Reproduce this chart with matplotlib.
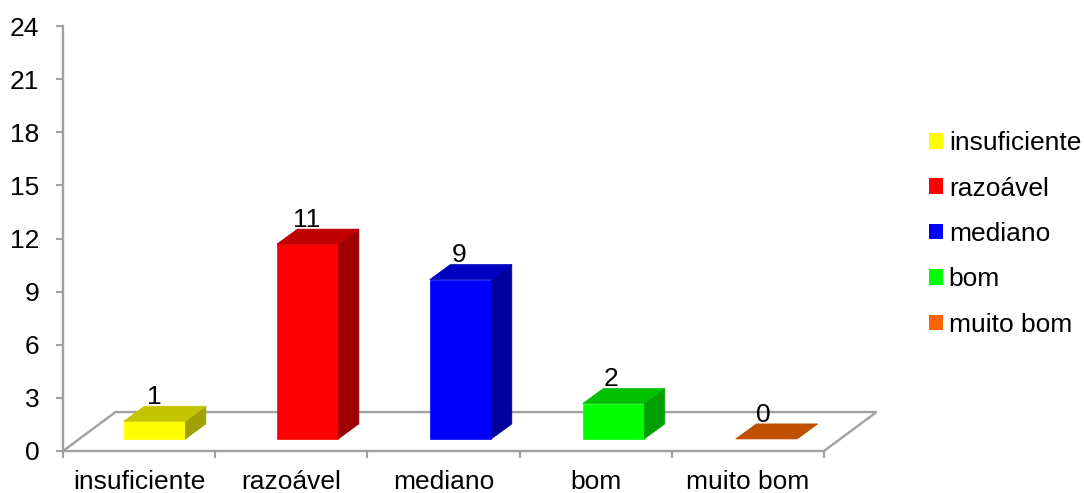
import matplotlib
matplotlib.use("Agg")
import matplotlib.pyplot as plt
from matplotlib.patches import Polygon, Patch
from matplotlib.lines import Line2D

plt.rcParams['font.family'] = ['Liberation Sans', 'DejaVu Sans']

categories = ["insuficiente", "razoável", "mediano", "bom", "muito bom"]
values = [1, 11, 9, 2, 0]
y_ticks = [0, 3, 6, 9, 12, 15, 18, 21, 24]

front_colors = ["#FFFF00", "#FF0000", "#0000FF", "#00FF00", "#FF6600"]
top_colors = ["#C4C400", "#C00000", "#0000C0", "#00C000", "#C05000"]
side_colors = ["#A0A000", "#A00000", "#00009C", "#00A000", "#A04000"]

GRAY = "#A0A0A0"
INK = "#000000"
FS = 19

# Oblique projection, in data units
FLOOR_DX, FLOOR_DY = 0.345, 2.2
BAR_DX, BAR_DY = 0.135, 0.85
BAR_LEFT, BAR_WIDTH, BAR_BASE = 0.40, 0.404, 0.68
BAR_PITCH = 1.005
LABEL_X = 0.60

W, H = 1084, 493
fig = plt.figure(figsize=(W / 100, H / 100), dpi=100)
ax = fig.add_axes([63 / W, 1 - 451 / H, (824 - 63) / W, (451 - 26) / H])
ax.set_xlim(0, 5)
ax.set_ylim(0, 24)
ax.patch.set_alpha(0)

for s in ("top", "right"):
    ax.spines[s].set_visible(False)
for s in ("left", "bottom"):
    ax.spines[s].set_color(GRAY)
    ax.spines[s].set_linewidth(1.7)

ax.set_yticks(y_ticks)
ax.set_xticks(range(6))
ax.set_xticklabels([])
ax.set_xticks([i + 0.5 for i in range(5)], minor=True)
ax.set_xticklabels(categories, minor=True, fontsize=FS, color=INK)
ax.tick_params(axis="y", length=5, width=1.5, color=GRAY, pad=12, labelsize=FS, labelcolor=INK)
ax.tick_params(axis="x", which="major", length=5, width=1.5, color=GRAY)
ax.tick_params(axis="x", which="minor", length=0, pad=14)

# Perspective floor: left diagonal, back edge, right diagonal
ax.add_line(Line2D([0, FLOOR_DX, 5 + FLOOR_DX, 5], [0, FLOOR_DY, FLOOR_DY, 0],
                   color=GRAY, lw=1.7, clip_on=False, zorder=1,
                   solid_joinstyle="miter"))

for i, (v, fc, tc, sc) in enumerate(zip(values, front_colors, top_colors, side_colors)):
    x0 = i * BAR_PITCH + BAR_LEFT
    x1 = x0 + BAR_WIDTH
    y0, y1 = BAR_BASE, BAR_BASE + v
    if v > 0:
        ax.add_patch(Polygon([(x0, y0), (x1, y0), (x1, y1), (x0, y1)],
                             fc=fc, ec=fc, lw=0.5, zorder=3))
        ax.add_patch(Polygon([(x1, y0), (x1 + BAR_DX, y0 + BAR_DY),
                              (x1 + BAR_DX, y1 + BAR_DY), (x1, y1)],
                             fc=sc, ec=sc, lw=0.5, zorder=3))
    ax.add_patch(Polygon([(x0, y1), (x1, y1), (x1 + BAR_DX, y1 + BAR_DY),
                          (x0 + BAR_DX, y1 + BAR_DY)],
                         fc=tc, ec=tc, lw=0.5, zorder=3))
    ax.text(i + LABEL_X, y1 + BAR_DY + 0.12, str(v), ha="center", va="baseline",
            fontsize=FS, color=INK, zorder=4)

handles = [Patch(fc=c, ec="none") for c in front_colors]
fig.legend(handles, categories, loc="center left",
           bbox_to_anchor=(929 / W, 1 - 234 / H), frameon=False, fontsize=FS,
           handlelength=0.53, handleheight=0.53, handletextpad=0.22,
           labelspacing=0.81, borderpad=0, borderaxespad=0, labelcolor=INK)

fig.savefig("out.png", dpi=100)
